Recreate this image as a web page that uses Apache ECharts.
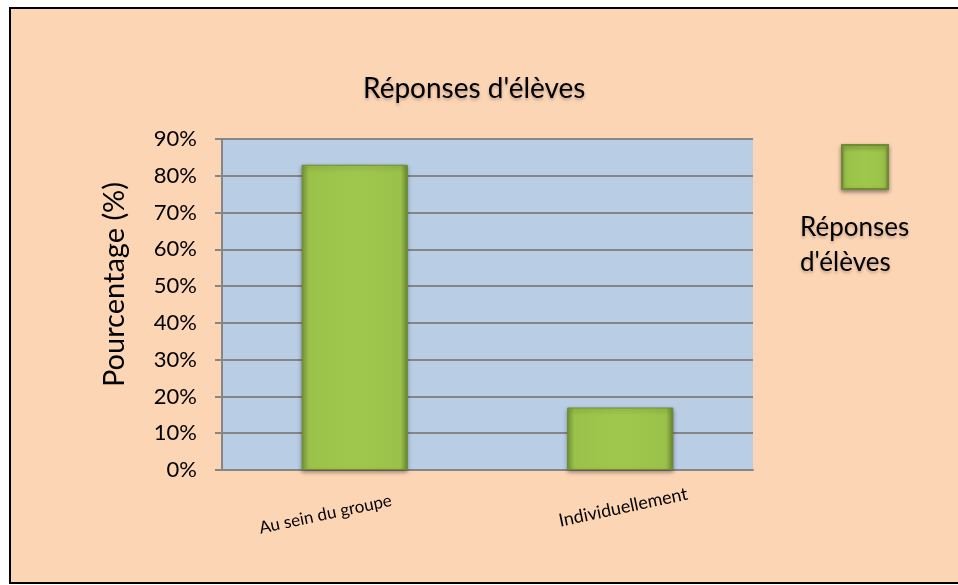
<!DOCTYPE html>
<html>
<head>
<meta charset="utf-8">
<script src="https://cdn.jsdelivr.net/npm/echarts@6/dist/echarts.min.js"></script>
<style>
  html, body { margin: 0; padding: 0; background: #ffffff; }
  #myChart { width: 958px; height: 585px; }
</style>
</head>
<body>
<div id="myChart"></div>
<script>
  // données
  var categories = ['Au sein du groupe', 'Individuellement'];
  var seriesName = "Réponses d'élèves";
  var values = [83, 17];
  var yTicks = [0, 10, 20, 30, 40, 50, 60, 70, 80, 90];

  var font = 'Lato, "Open Sans", sans-serif';
  var shadow = {
    textShadowColor: 'rgba(0,0,0,0.25)',
    textShadowBlur: 3,
    textShadowOffsetY: 2
  };

  // dégradé vert façon biseau Excel
  var barColor = new echarts.graphic.LinearGradient(0, 0, 1, 0, [
    { offset: 0, color: '#78973a' },
    { offset: 0.07, color: '#9ac149' },
    { offset: 0.5, color: '#a0c74d' },
    { offset: 0.93, color: '#9ac149' },
    { offset: 1, color: '#6c8a31' }
  ]);

  var myChart = echarts.init(document.getElementById('myChart'));

  myChart.setOption({
    backgroundColor: '#ffffff',
    animation: false,
    graphic: [
      {
        type: 'rect',
        z: -10,
        shape: { x: 10, y: 8, width: 960, height: 575 },
        style: { fill: '#fcd5b5', stroke: '#000000', lineWidth: 2 }
      },
      {
        type: 'text',
        left: 800,
        top: 210,
        style: Object.assign({
          text: "Réponses\nd'élèves",
          font: '26px ' + font,
          fill: '#000000',
          lineHeight: 35
        }, shadow)
      }
    ],
    title: {
      text: seriesName,
      left: 358,
      top: 70,
      textStyle: Object.assign({
        fontFamily: font,
        fontSize: 28,
        fontWeight: 'normal',
        color: '#000000'
      }, shadow)
    },
    legend: {
      data: [seriesName],
      left: 836,
      top: 139,
      icon: 'rect',
      itemWidth: 46,
      itemHeight: 44,
      formatter: function () { return ''; },
      itemStyle: {
        color: barColor,
        shadowColor: 'rgba(0,0,0,0.4)',
        shadowBlur: 4,
        shadowOffsetY: 2
      }
    },
    grid: {
      left: 222,
      right: 205,
      top: 139,
      bottom: 115,
      show: true,
      backgroundColor: '#b9cde5',
      borderWidth: 0
    },
    xAxis: {
      type: 'category',
      data: categories,
      axisLine: { lineStyle: { color: '#868686', width: 2 } },
      axisTick: { show: false },
      axisLabel: {
        rotate: 12,
        align: 'center',
        verticalAlign: 'middle',
        margin: 38,
        fontFamily: font,
        fontSize: 17,
        color: '#000000',
        formatter: function (val, idx) {
          return idx === 0 ? '{a|' + val + '}' : '{b|' + val + '}';
        },
        rich: {
          a: { fontFamily: font, fontSize: 17, color: '#000000', padding: [0, 60, 0, 0] },
          b: { fontFamily: font, fontSize: 18, color: '#000000', padding: [0, 0, 0, 6] }
        }
      }
    },
    yAxis: {
      type: 'value',
      min: yTicks[0],
      max: yTicks[yTicks.length - 1],
      interval: 10,
      name: 'Pourcentage (%)',
      nameLocation: 'middle',
      nameGap: 93,
      nameTextStyle: {
        fontFamily: font,
        fontSize: 29,
        color: '#000000',
        padding: [0, 0, 0, 40]
      },
      axisLine: { show: true, lineStyle: { color: '#868686', width: 2 } },
      axisTick: { show: true, length: 7, lineStyle: { color: '#868686', width: 2 } },
      axisLabel: {
        formatter: '{value}%',
        margin: 25,
        fontFamily: font,
        fontSize: 22,
        color: '#000000'
      },
      splitLine: { lineStyle: { color: '#868686', width: 2 } }
    },
    series: [
      {
        name: seriesName,
        type: 'bar',
        data: values,
        barCategoryGap: '60%',
        itemStyle: {
          color: barColor,
          borderColor: '#6d8c33',
          borderWidth: 1,
          shadowColor: 'rgba(0,0,0,0.35)',
          shadowBlur: 4,
          shadowOffsetY: 2
        }
      }
    ]
  });
</script>
</body>
</html>
